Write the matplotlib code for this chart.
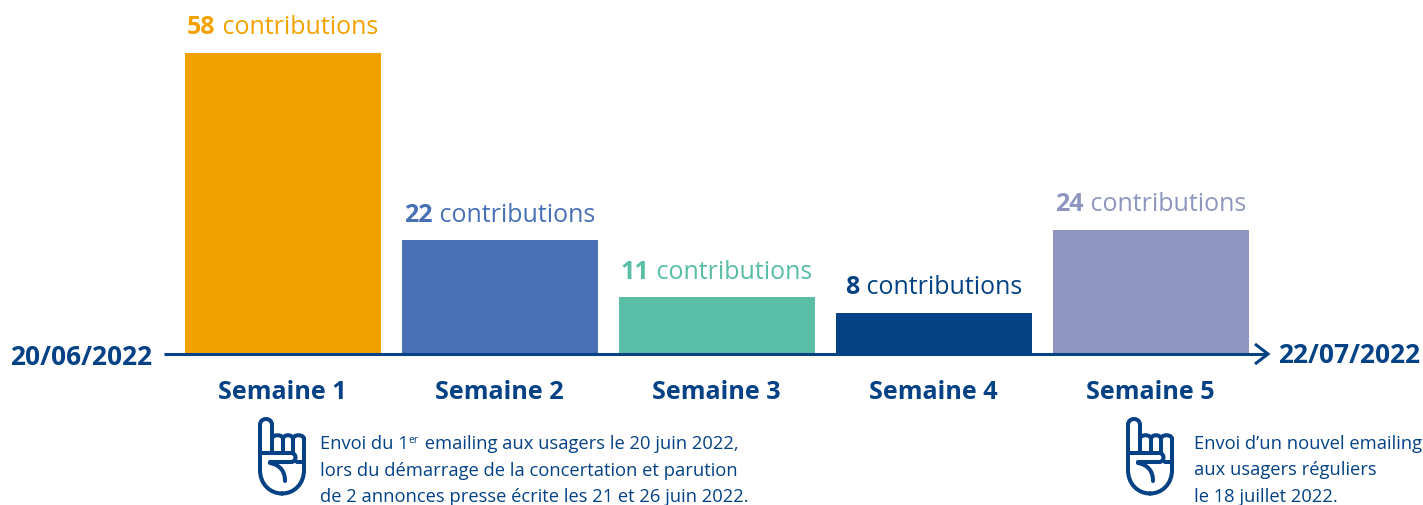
import matplotlib
matplotlib.use("Agg")
import matplotlib.pyplot as plt
from matplotlib.path import Path
from matplotlib.patches import PathPatch
from matplotlib.transforms import Affine2D

W, H = 1423, 506
weeks = ["Semaine 1", "Semaine 2", "Semaine 3", "Semaine 4", "Semaine 5"]
contributions = [58, 22, 11, 8, 24]
bar_colors = ["#F2A200", "#4871B5", "#5ABDA5", "#044285", "#8E96C0"]
label_colors = ["#F2A200", "#4871B5", "#5ABDA5", "#044285", "#8E96C0"]
start_date, end_date = "20/06/2022", "22/07/2022"
note_a = ["lors du démarrage de la concertation et parution",
          "de 2 annonces presse écrite les 21 et 26 juin 2022."]
note_b = ["Envoi d’un nouvel emailing", "aux usagers réguliers", "le 18 juillet 2022."]
NAVY = "#044285"
FONT = "Open Sans"

fig = plt.figure(figsize=(W / 100, H / 100), dpi=100, facecolor="white")
ax = fig.add_axes([0, 0, 1, 1])
step, x0, px_per = 217.0, 283.0, 302 / 58
base_y = 355.6
ax.set_xlim(-x0 / step, (W - x0) / step)
ax.set_ylim(-(H - base_y) / px_per, base_y / px_per)
ax.axis("off")
ax.bar(range(len(weeks)), contributions, width=196 / step, color=bar_colors, zorder=2)

# pixel coordinates measured from top left, for text and decoration only
px = Affine2D().scale(1, -1).translate(0, H)
r = fig.canvas.get_renderer()


def T(x, y, s, size, weight="normal", color=NAVY, ha="left", va="baseline"):
    return ax.text(x, y, s, transform=px, fontsize=size, fontweight=weight, color=color,
                   ha=ha, va=va, family=FONT, zorder=4)


def width(t):
    return t.get_window_extent(r).width


# value labels: bold number + regular word, centred on bar
for i, (v, c) in enumerate(zip(contributions, label_colors)):
    cx = x0 + step * i
    top = base_y - v * px_per
    y = top - 19.5
    a = T(0, y, str(v), 18.0, "bold", c)
    b = T(0, y, " contributions", 18.0, "normal", c)
    wa, wb = width(a), width(b)
    left = cx - (wa + wb) / 2 - 0.5
    a.set_x(left)
    b.set_x(left + wa)
    T(cx - 0.5, 399, weeks[i], 18.2, "bold", ha="center")

# timeline
ax.plot([164, 1266], [355, 355], transform=px, color=NAVY, lw=2.2, zorder=3, solid_capstyle="butt")
ax.plot([1255, 1268, 1255], [345, 355, 365], transform=px, color=NAVY, lw=2.2, zorder=3,
        solid_joinstyle="miter", solid_capstyle="butt")
T(152, 365.5, start_date, 19.0, "bold", ha="right")
T(1278, 363.5, end_date, 19.0, "bold")

# hand icon, local coordinates equal to pixels from icon's top left
M, L, C = Path.MOVETO, Path.LINETO, Path.CURVE4


def hand(ox, oy):
    segs = [
        # index finger and left side
        ([(2, 52), (2, 7)], None),
        ([(2, 7), (2, -1), (14, -1), (14, 7)], "c"),
        ([(14, 7), (14, 35)], None),
        # knuckles
        ([(14, 21), (14, 16), (25, 16), (25, 21)], "c"),
        ([(25, 21), (25, 35)], None),
        ([(25, 21), (25, 16), (35, 16), (35, 21)], "c"),
        ([(35, 21), (35, 35)], None),
        ([(35, 21), (35, 16), (46, 16), (46, 21)], "c"),
        ([(46, 21), (46, 52)], None),
        # palm
        ([(46, 52), (46, 66), (36, 75.5), (24, 75.5)], "c"),
        ([(24, 75.5), (12, 75.5), (2, 66), (2, 52)], "c"),
        # curled thumb
        ([(2, 35), (33, 35)], None),
        ([(33, 35), (39, 35), (39, 44), (33, 44)], "c"),
        ([(33, 44), (12, 44)], None),
        ([(12, 45), (22, 47), (27, 53), (27, 63)], "c"),
        # little finger foot
        ([(39, 44), (46, 44)], None),
    ]
    verts, codes = [], []
    for pts, kind in segs:
        verts += [(ox + a, oy + b) for a, b in pts]
        codes += [M, C, C, C] if kind else [M, L]
    ax.add_patch(PathPatch(Path(verts, codes), transform=px, fill=False, edgecolor=NAVY,
                           lw=2.9, capstyle="round", zorder=4))


hand(258, 419)
hand(1126, 419)

# first note with superscript
NS = 13.2
s1 = T(320, 449, "Envoi du 1", NS)
e = T(320 + width(s1), 443, "er", 7.5)
T(320 + width(s1) + width(e) + 1, 449, " emailing aux usagers le 20 juin 2022,", NS)
for k, line in enumerate(note_a):
    T(320, 476 + 26 * k, line, NS)
for k, line in enumerate(note_b):
    T(1194, 449 + 26.5 * k, line, NS)

fig.savefig("out.png", dpi=100, facecolor="white")
